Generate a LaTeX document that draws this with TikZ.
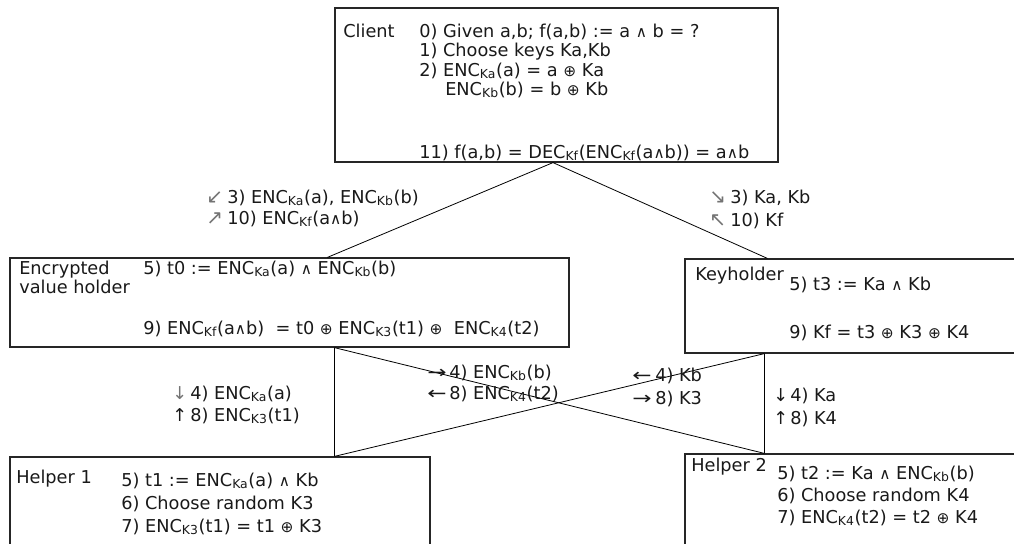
\documentclass[tikz,border=0pt]{standalone}
\usepackage{fontspec}
\setmainfont{DejaVu Sans}
\usetikzlibrary{fit,calc}
\newcommand{\enc}[1]{ENC\textsubscript{#1}}
\newcommand{\dec}[1]{DEC\textsubscript{#1}}
\newcommand{\wdg}{{\fontsize{11.5}{11}\selectfont ∧}}
\newcommand{\xor}{{\fontsize{11.5}{11}\selectfont ⊕}}
\newcommand{\longra}{\scalebox{1.3}[1]{→}}
\newcommand{\longla}{\scalebox{1.3}[1]{←}}
\tikzset{
  box/.style={draw=black!85, line width=0.9pt, inner sep=0pt},
  txt/.style={anchor=base west, inner sep=0pt, font=\fontsize{13.3}{16}\selectfont, text=black!90},
  arr/.style={anchor=base west, inner sep=0pt, font=\fontsize{15}{16}\selectfont, text=black!55},
  link/.style={draw=black, line width=0.6pt},
}
\begin{document}
\begin{tikzpicture}[x=0.75pt,y=-0.75pt]
\useasboundingbox (0,0) rectangle (1014,543);
\clip (0,0) rectangle (1014,543);
% boxes
\node[box, fit={(335,8)(778,162)}] (client) {};
\node[box, fit={(10,258)(569,347)}] (evh) {};
\node[box, fit={(685,259)(1030,353)}] (kh) {};
\node[box, fit={(10,457)(430,570)}] (h1) {};
\node[box, fit={(685,454)(1030,570)}] (h2) {};
% connectors
\draw[link] ($(client.south)+(-3.5,0)$) -- ($(evh.north west)+(318,0)$);
\draw[link] ($(client.south)+(-3.5,0)$) -- ($(kh.north west)+(83,0)$);
\draw[link] ($(evh.south west)+(325,0)$) -- ($(h1.north west)+(325,0)$);
\draw[link] ($(evh.south west)+(325,0)$) -- ($(h2.north west)+(80,0)$);
\draw[link] ($(kh.south west)+(80,0)$) -- ($(h2.north west)+(80,0)$);
\draw[link] ($(kh.south west)+(80,0)$) -- ($(h1.north west)+(325,0)$);
% client text
\node[txt] (tclient) at (343,37) {Client};
\node[txt] (c0) at (419,37) {0) Given a,b; f(a,b) := a \wdg{} b = ?};
\node[txt] (c1) at (419,56) {1) Choose keys Ka,Kb};
\node[txt] (c2) at (419,76) {2) \enc{Ka}(a) = a \xor{} Ka};
\node[txt] (c3) at (445,95) {\enc{Kb}(b) = b \xor{} Kb};
\node[txt] (c11) at (419,158) {11) f(a,b) = \dec{Kf}(\enc{Kf}(a\wdg b)) = a\wdg b};
% labels client - evh
\node[arr] (la1) at (206,203) {↙};
\node[txt] (lt1) at (227,203) {3) \enc{Ka}(a), \enc{Kb}(b)};
\node[arr] (la2) at (206,224) {↗};
\node[txt] (lt2) at (227,224) {10) \enc{Kf}(a\wdg b)};
% labels client - keyholder
\node[arr] (ra1) at (709,203) {↘};
\node[txt] (rt1) at (730,203) {3) Ka, Kb};
\node[arr] (ra2) at (709,226) {↖};
\node[txt] (rt2) at (730,226) {10) Kf};
% evh text
\node[txt] (e1) at (19,274) {Encrypted};
\node[txt] (e2) at (19,293) {value holder};
\node[txt] (e5) at (143,274) {5) t0 := \enc{Ka}(a) \wdg{} \enc{Kb}(b)};
\node[txt] (e9) at (143,334) {9) \enc{Kf}(a\wdg b)\ \ = t0 \xor{} \enc{K3}(t1) \xor{}\ \ \enc{K4}(t2)};
% keyholder text
\node[txt] (k0) at (695,280) {Keyholder};
\node[txt] (k5) at (789,290) {5) t3 := Ka \wdg{} Kb};
\node[txt] (k9) at (789,338) {9) Kf = t3 \xor{} K3 \xor{} K4};
% middle labels
\node[txt, text=black!55] (ma1) at (172,399) {↓};
\node[txt] (mt1) at (190,399) {4) \enc{Ka}(a)};
\node[txt] (ma2) at (172,421) {↑};
\node[txt] (mt2) at (190,421) {8) \enc{K3}(t1)};
\node[txt] (ca1) at (427,378) {\longra};
\node[txt] (ct1) at (449,378) {4) \enc{Kb}(b)};
\node[txt] (ca2) at (427,399) {\longla};
\node[txt] (ct2) at (449,399) {8) \enc{K4}(t2)};
\node[txt] (da1) at (632,381) {\longla};
\node[txt] (dt1) at (655,381) {4) Kb};
\node[txt] (da2) at (632,404) {\longra};
\node[txt] (dt2) at (655,404) {8) K3};
\node[txt] (ga1) at (773,401) {↓};
\node[txt] (gt1) at (790,401) {4) Ka};
\node[txt] (ga2) at (773,424) {↑};
\node[txt] (gt2) at (790,424) {8) K4};
% helper 1
\node[txt] (h1t) at (16,483) {Helper 1};
\node[txt] (h15) at (121,486) {5) t1 := \enc{Ka}(a) \wdg{} Kb};
\node[txt] (h16) at (121,509) {6) Choose random K3};
\node[txt] (h17) at (121,532) {7) \enc{K3}(t1) = t1 \xor{} K3};
% helper 2
\node[txt] (h2t) at (691,471) {Helper 2};
\node[txt] (h25) at (777,479) {5) t2 := Ka \wdg{} \enc{Kb}(b)};
\node[txt] (h26) at (777,501) {6) Choose random K4};
\node[txt] (h27) at (777,523) {7) \enc{K4}(t2) = t2 \xor{} K4};
\end{tikzpicture}
\end{document}
